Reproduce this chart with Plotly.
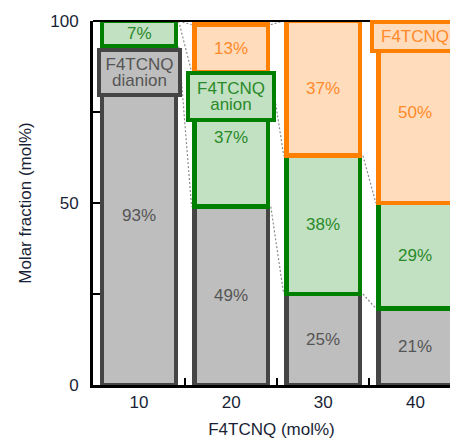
import plotly.graph_objects as go

# ---- data ----
categories = [10, 20, 30, 40]
tick_labels = ["10", "20", "30", "40"]
dianion = [93, 49, 25, 21]
anion = [7, 37, 38, 29]
neutral = [0, 13, 37, 50]

y_ticks = [0, 50, 100]
y_minor = [25, 75]
x_minor = [15, 25, 35]

# ---- styles ----
FONT = "Liberation Sans, Arial, Helvetica, sans-serif"
TICKCOL = "#1a1f36"
species = [
    ("dianion", dianion, "#bebebe", "#454545", "#555555"),
    ("anion", anion, "#c2e1c2", "#008000", "#2a8a2a"),
    ("neutral", neutral, "#ffdcbc", "#ff8000", "#ff8a2a"),
]
BAR_W = 8.0
HALF_OUT = 4.3

fig = go.Figure()

for name, vals, fill, edge, _ in species:
    fig.add_trace(go.Bar(
        x=categories,
        y=[v if v > 0 else None for v in vals],
        width=BAR_W,
        marker=dict(color=fill, line=dict(color=edge, width=4.5)),
        name=name, showlegend=False, hoverinfo="skip",
    ))

# dashed connectors between stack boundaries
lev1 = dianion
lev2 = [a + b for a, b in zip(dianion, anion)]
lev3 = [a + b + c for a, b, c in zip(dianion, anion, neutral)]
cx, cy = [], []
for lev in (lev1, lev2, lev3):
    for i in range(len(categories) - 1):
        cx += [categories[i] + HALF_OUT, categories[i + 1] - HALF_OUT, None]
        cy += [lev[i], lev[i + 1], None]
fig.add_trace(go.Scatter(
    x=cx, y=cy, mode="lines",
    line=dict(color="#8c8c8c", width=1.2, dash="2px,2px"),
    showlegend=False, hoverinfo="skip",
))

# percent labels
overrides = {(1, "anion"): 68}
for idx, (name, vals, _, _, tcol) in enumerate(species):
    for i, c in enumerate(categories):
        v = vals[i]
        if v <= 0:
            continue
        base = sum(species[k][1][i] for k in range(idx))
        y = overrides.get((i, name), base + v / 2)
        fig.add_annotation(x=c, y=y, text=f"{v}%", showarrow=False,
                           font=dict(family=FONT, size=17, color=tcol))

# species label boxes
def box(x, y, lines, w, h, fill, edge, tcol):
    txt = "<br>".join(f"<span style='font-size:17px'>{t}</span>" for t in lines)
    fig.add_annotation(x=x, y=y, text=txt, showarrow=False,
                       width=w, height=h, bgcolor=fill, bordercolor=edge,
                       borderwidth=4, borderpad=0, valign="middle",
                       font=dict(family=FONT, size=12, color=tcol))

box(categories[0], 85.9, ["F4TCNQ", "dianion"], 77, 41, "#bebebe", "#454545", "#555555")
box(categories[1], 79.3, ["F4TCNQ", "anion"], 82, 43, "#c2e1c2", "#008000", "#2a8a2a")
box(categories[3], 95.7, ["F4TCNQ"], 82, 25, "#ffdcbc", "#ff8000", "#ff8a2a")

# top frame line
fig.add_shape(type="line", xref="paper", yref="paper", x0=0, x1=1, y0=1, y1=1,
              line=dict(color="black", width=2))

fig.update_layout(
    width=450, height=441,
    margin=dict(l=93, r=0, t=21, b=56),
    paper_bgcolor="white", plot_bgcolor="white",
    barmode="stack", bargap=0,
    font=dict(family=FONT, size=17, color=TICKCOL),
)
fig.update_xaxes(
    range=[5, 43.75], tickvals=categories, ticktext=tick_labels,
    ticks="", showgrid=False, zeroline=False, automargin=False,
    showline=True, linewidth=3, linecolor="black",
    tickfont=dict(size=17, color=TICKCOL),
    minor=dict(tickvals=x_minor, ticks="inside", ticklen=7, tickwidth=2, tickcolor="black"),
    title=dict(text="F4TCNQ (mol%)", font=dict(size=17, color=TICKCOL), standoff=12),
)
fig.update_yaxes(
    range=[0, 100], tickvals=y_ticks,
    ticks="inside", ticklen=7, tickwidth=2, tickcolor="black",
    showgrid=False, zeroline=False, automargin=False,
    showline=True, linewidth=3, linecolor="black",
    ticklabelstandoff=8,
    tickfont=dict(size=17, color=TICKCOL),
    minor=dict(tickvals=y_minor, ticks="inside", ticklen=7, tickwidth=2, tickcolor="black"),
    title=dict(text="Molar fraction (mol%)", font=dict(size=17, color=TICKCOL), standoff=15),
)

# remove the page's default body margin so the 450x441 figure fills the window
fig.write_html("out.html",
               config={"displayModeBar": False, "staticPlot": True},
               post_script="document.body.style.margin='0';document.body.style.overflow='hidden';")
